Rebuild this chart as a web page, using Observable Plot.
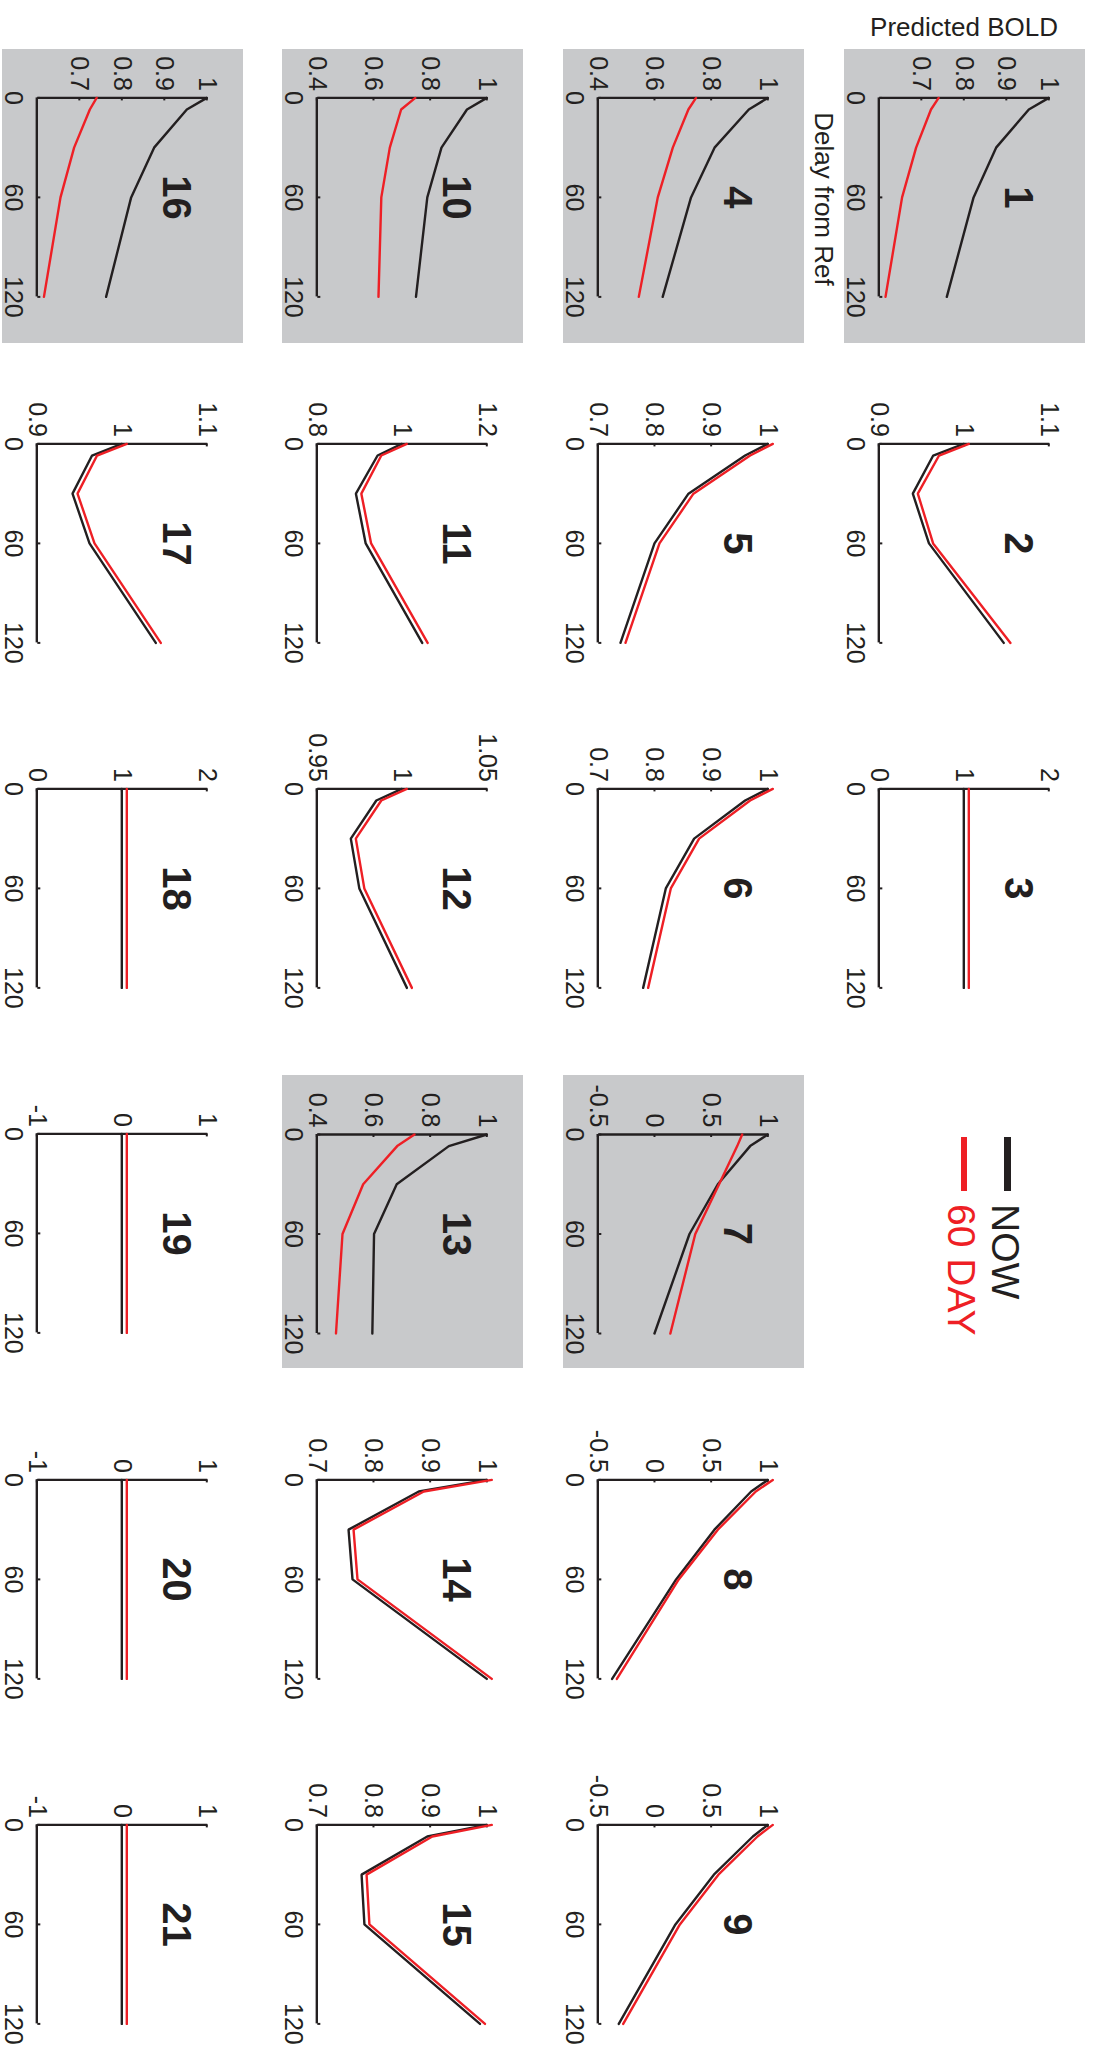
<!DOCTYPE html>
<html>
<head>
<meta charset="utf-8">
<script src="https://cdn.jsdelivr.net/npm/d3@7"></script>
<script src="https://cdn.jsdelivr.net/npm/@observablehq/plot@0.6"></script>
<style>
  html, body { margin: 0; padding: 0; background: #fff; }
  body { width: 1094px; height: 2065px; overflow: hidden; position: relative; }
  /* The figure is laid out in landscape and turned a quarter turn clockwise. */
  #sheet {
    position: absolute; left: 0; top: 0; width: 2065px; height: 1094px;
    transform-origin: 0 0; transform: translate(1094px, 0) rotate(90deg);
    font-family: "Liberation Sans", Arial, Helvetica, sans-serif; color: #231f20;
  }
  .panel { position: absolute; }
  .lbl { position: absolute; white-space: nowrap; }
</style>
</head>
<body>
<div id="sheet"></div>
<script>
// Delay from reference (days) at which BOLD is predicted
const delays = [0, 7, 30, 60, 120];
const delayTicks = [0, 60, 120];
const panelNumbers = [1, 2, 3, 4, 5, 6, 7, 8, 9, 10, 11, 12, 13, 14, 15, 16, 17, 18, 19, 20, 21];
const shadedPanels = [1, 4, 7, 10, 13, 16];

// Predicted BOLD, current model ("NOW"), one row per panel
const nowBold = [
  [1.00, 0.953, 0.876, 0.823, 0.760],
  [1.00, 0.964, 0.940, 0.959, 1.047],
  [1.00, 1.00, 1.00, 1.00, 1.00],
  [1.00, 0.933, 0.812, 0.729, 0.629],
  [1.00, 0.960, 0.860, 0.800, 0.740],
  [1.00, 0.960, 0.870, 0.820, 0.780],
  [1.00, 0.844, 0.559, 0.309, 0.000],
  [1.00, 0.853, 0.529, 0.191, -0.374],
  [1.00, 0.868, 0.524, 0.185, -0.315],
  [1.00, 0.930, 0.840, 0.790, 0.750],
  [1.00, 0.943, 0.892, 0.915, 1.048],
  [1.00, 0.985, 0.970, 0.975, 1.003],
  [1.00, 0.866, 0.682, 0.602, 0.596],
  [1.00, 0.880, 0.756, 0.763, 1.000],
  [1.00, 0.895, 0.779, 0.784, 0.988],
  [1.00, 0.953, 0.876, 0.822, 0.763],
  [1.00, 0.965, 0.942, 0.962, 1.040],
  [1.00, 1.00, 1.00, 1.00, 1.00],
  [0, 0, 0, 0, 0],
  [0, 0, 0, 0, 0],
  [0, 0, 0, 0, 0]
];

// Predicted BOLD after 60 days ("60 DAY")
const day60Bold = [
  [0.729, 0.711, 0.676, 0.643, 0.604],
  [1.00, 0.965, 0.940, 0.958, 1.049],
  [1.00, 1.00, 1.00, 1.00, 1.00],
  [0.729, 0.702, 0.647, 0.594, 0.527],
  [1.00, 0.960, 0.860, 0.800, 0.740],
  [1.00, 0.960, 0.870, 0.820, 0.780],
  [0.730, 0.686, 0.526, 0.316, 0.096],
  [1.00, 0.850, 0.515, 0.170, -0.376],
  [1.00, 0.865, 0.520, 0.180, -0.320],
  [0.730, 0.680, 0.640, 0.610, 0.600],
  [1.00, 0.940, 0.893, 0.916, 1.049],
  [1.00, 0.985, 0.970, 0.975, 1.003],
  [0.727, 0.666, 0.546, 0.473, 0.450],
  [1.00, 0.880, 0.756, 0.763, 1.000],
  [1.00, 0.895, 0.779, 0.784, 0.988],
  [0.729, 0.713, 0.676, 0.644, 0.605],
  [1.00, 0.965, 0.942, 0.962, 1.040],
  [1.00, 1.00, 1.00, 1.00, 1.00],
  [0, 0, 0, 0, 0],
  [0, 0, 0, 0, 0],
  [0, 0, 0, 0, 0]
];

// BOLD axis limits and labelled ticks per panel
const boldDomains = [
  [0.6, 1], [0.9, 1.1], [0, 2],
  [0.4, 1], [0.7, 1], [0.7, 1], [-0.5, 1], [-0.5, 1], [-0.5, 1],
  [0.4, 1], [0.8, 1.2], [0.95, 1.05], [0.4, 1], [0.7, 1], [0.7, 1],
  [0.6, 1], [0.9, 1.1], [0, 2], [-1, 1], [-1, 1], [-1, 1]
];
const boldTicks = [
  [0.7, 0.8, 0.9, 1], [0.9, 1, 1.1], [0, 1, 2],
  [0.4, 0.6, 0.8, 1], [0.7, 0.8, 0.9, 1], [0.7, 0.8, 0.9, 1], [-0.5, 0, 0.5, 1], [-0.5, 0, 0.5, 1], [-0.5, 0, 0.5, 1],
  [0.4, 0.6, 0.8, 1], [0.8, 1, 1.2], [0.95, 1, 1.05], [0.4, 0.6, 0.8, 1], [0.7, 0.8, 0.9, 1], [0.7, 0.8, 0.9, 1],
  [0.7, 0.8, 0.9, 1], [0.9, 1, 1.1], [0, 1, 2], [-1, 0, 1], [-1, 0, 1], [-1, 0, 1]
];

const seriesNames = ["NOW", "60 DAY"];
const seriesColors = ["#231f20", "#ee1f25"];

const INK = "#231f20";
const SHADE = "#c8c9cb";
const FONT = '"Liberation Sans", Arial, Helvetica, sans-serif';

const sheet = document.getElementById("sheet");

// grid placement of the panel frames (landscape coordinates)
const FRAME_W = 199, FRAME_H = 170;
const BOX_W = 293.4, MT = 35.7, MB = 35.3;
function gridOf(k) {
  if (k <= 3) return {row: 0, col: k - 1};
  return {row: Math.floor((k - 4) / 6) + 1, col: (k - 4) % 6};
}

function drawPanel(k) {
  const i = k - 1;
  const {row, col} = gridOf(k);
  const shaded = shadedPanels.includes(k);
  const ml = (k === 7 || k === 13) ? 59 : 48.4;
  const mr = BOX_W - FRAME_W - ml;
  const frameLeft = 97.7 + 345.3 * col;
  const frameTop = 44.7 + 280.8 * row;

  const rows = (vals, s) => delays.map((d, j) => ({delay: d, bold: vals[j], series: s}));
  const nowRows = rows(nowBold[i], seriesNames[0]);
  const dayRows = rows(day60Bold[i], seriesNames[1]);
  const yMin = boldDomains[i][0];

  const chart = Plot.plot({
    width: FRAME_W + ml + mr,
    height: FRAME_H + MT + MB,
    marginLeft: ml, marginRight: mr, marginTop: MT, marginBottom: MB,
    style: {background: shaded ? SHADE : "white", fontFamily: FONT, fontSize: "25px", color: INK, overflow: "visible"},
    x: {domain: [0, 120]},
    y: {domain: boldDomains[i]},
    marks: [
      Plot.axisX({ticks: delayTicks, tickSize: 0, tickPadding: 14, fontSize: 25, fill: INK, label: null, tickFormat: d => String(d)}),
      Plot.axisY({ticks: boldTicks[i], tickSize: 0, tickPadding: 7, fontSize: 25, fill: INK, label: null, tickFormat: d => String(d)}),
      // short inward tick marks
      Plot.tickX(delayTicks, {x: d => d, insetTop: FRAME_H - 3, stroke: INK, strokeWidth: 2}),
      Plot.tickY(boldTicks[i], {y: d => d, insetRight: FRAME_W - 3, stroke: INK, strokeWidth: 2}),
      // axis lines
      Plot.ruleX([0], {stroke: INK, strokeWidth: 2.4}),
      Plot.ruleY([yMin], {stroke: INK, strokeWidth: 2.4}),
      // series
      Plot.line(nowRows, {x: "delay", y: "bold", stroke: seriesColors[0], strokeWidth: 2.4, strokeLinejoin: "miter"}),
      Plot.line(dayRows, {x: "delay", y: "bold", stroke: seriesColors[1], strokeWidth: 2.4, strokeLinejoin: "miter", dy: -5}),
      // panel number
      Plot.text([k], {text: d => String(d), frameAnchor: "top", dy: 15, fontSize: 40, fontWeight: "bold", fill: INK})
    ]
  });

  const holder = document.createElement("div");
  holder.className = "panel";
  holder.style.left = (frameLeft - ml) + "px";
  holder.style.top = (frameTop - MT) + "px";
  holder.style.width = (FRAME_W + ml + mr) + "px";
  holder.appendChild(chart);
  sheet.appendChild(holder);
}

panelNumbers.forEach(drawPanel);

// axis titles
function addLabel(text, css) {
  const el = document.createElement("div");
  el.className = "lbl";
  el.textContent = text;
  Object.assign(el.style, css);
  sheet.appendChild(el);
  return el;
}
addLabel("Predicted BOLD", {
  left: (26.7 - 120) + "px", top: (130 - 13) + "px", width: "240px", height: "26px",
  lineHeight: "26px", fontSize: "26px", textAlign: "center", transform: "rotate(-90deg)"
});
addLabel("Delay from Ref", {
  left: (199 - 120) + "px", top: "257.3px", width: "240px", height: "26px",
  lineHeight: "26px", fontSize: "26px", textAlign: "center"
});

// legend
const legendY = [86.5, 130.2];
seriesNames.forEach((name, j) => {
  const sw = document.createElement("div");
  const thick = j === 0 ? 7 : 6;
  Object.assign(sw.style, {
    position: "absolute", left: "1137px", width: "54px", height: thick + "px",
    top: (legendY[j] - thick / 2) + "px", background: seriesColors[j]
  });
  sheet.appendChild(sw);
  addLabel(name, {
    left: "1204px", top: (legendY[j] + 1.5 - 19) + "px", fontSize: "39px", lineHeight: "39px",
    color: seriesColors[j]
  });
});
</script>
</body>
</html>
